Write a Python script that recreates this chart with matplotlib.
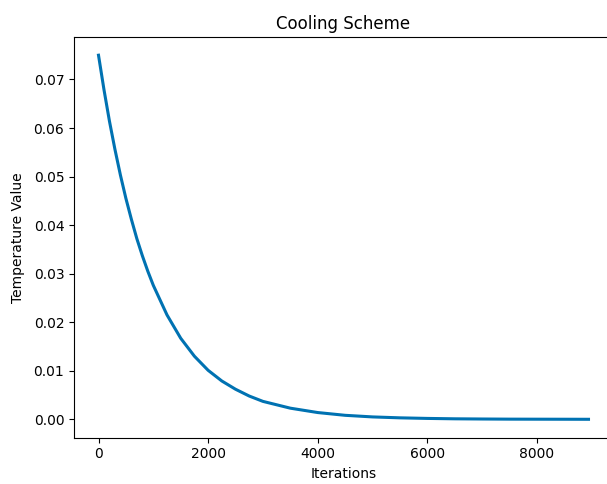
import matplotlib
matplotlib.use("Agg")
import matplotlib.pyplot as plt

# temperature
iterations = [0, 100, 200, 300, 400, 500, 600, 700, 800, 900, 1000,
              1250, 1500, 1750, 2000, 2250, 2500, 2750, 3000,
              3500, 4000, 4500, 5000, 5500, 6000, 6500, 7000,
              7500, 8000, 8500, 8940]
temperature = [0.0750, 0.0679, 0.0614, 0.0556, 0.0503, 0.0455, 0.0412,
               0.0372, 0.0337, 0.0305, 0.0276,
               0.0215, 0.0167, 0.0130, 0.0101, 0.0079, 0.0062, 0.0048, 0.0037,
               0.0023, 0.0014, 0.00083, 0.00050, 0.00031, 0.00019, 0.00011,
               0.00007, 0.00004, 0.00003, 0.00002, 0.00001]


def main():
    fig = plt.figure(figsize=(6.07, 4.84), dpi=100)
    # the right edge of the axes lies just past the canvas, as in the reference
    ax = fig.add_axes([74 / 607, 46.5 / 484, 539 / 607, 400.5 / 484])
    ax.plot(iterations, temperature, color="#0072b2", linewidth=2.2)
    ax.spines["right"].set_visible(False)
    ax.set_title("Cooling Scheme")
    ax.set_xlabel("Iterations")
    ax.set_ylabel("Temperature Value", labelpad=6)
    fig.savefig("out.png", dpi=100)


if __name__ == "__main__":
    main()
